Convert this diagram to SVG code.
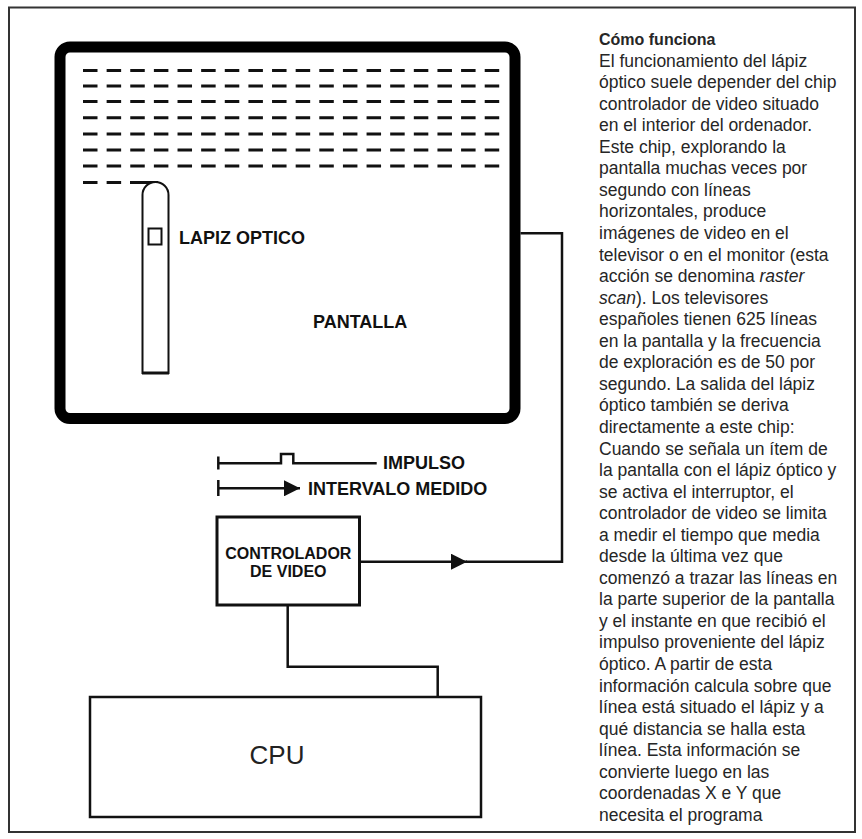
<svg xmlns="http://www.w3.org/2000/svg" width="862" height="839" viewBox="0 0 862 839">
<style>
.ln{fill:none;stroke:#111;stroke-width:2.5}
.lbl{font-family:"Liberation Sans",Arial,sans-serif;font-weight:bold;font-size:18px;fill:#111}
.scan{stroke:#111;stroke-width:3;stroke-dasharray:14.5 9.13}
.body{font-family:"Liberation Sans",Arial,sans-serif;font-size:17.5px;fill:#262626}
</style>
<defs>
<marker id="arr" markerUnits="userSpaceOnUse" markerWidth="16" markerHeight="16" refX="16" refY="8" orient="auto" viewBox="0 0 16 16">
<path d="M0,0 L16,8 L0,16 Z" fill="#111"/>
</marker>
</defs>
<rect x="0" y="0" width="862" height="839" fill="#fff"/>
<rect id="frame" x="9" y="7.5" width="846" height="824.5" fill="none" stroke="#333" stroke-width="2"/>

<g id="pantalla">
<rect x="60" y="47" width="455" height="371.5" rx="10" fill="#fff" stroke="#000" stroke-width="11"/>
<g id="scanlines">
<line class="scan" x1="83" y1="70.5" x2="500" y2="70.5"/>
<line class="scan" x1="83" y1="86" x2="500" y2="86"/>
<line class="scan" x1="83" y1="101.5" x2="500" y2="101.5"/>
<line class="scan" x1="83" y1="117.7" x2="500" y2="117.7"/>
<line class="scan" x1="83" y1="134" x2="500" y2="134"/>
<line class="scan" x1="83" y1="150" x2="500" y2="150"/>
<line class="scan" x1="83" y1="166" x2="500" y2="166"/>
<line class="scan" x1="83" y1="182.5" x2="122" y2="182.5"/>
<line x1="130" y1="182.5" x2="158" y2="182.5" stroke="#111" stroke-width="3"/>
</g>
<text class="lbl" x="313" y="328">PANTALLA</text>
</g>

<g id="lapiz">
<path d="M142.5,373 L142.5,195 A13,13 0 0 1 168.5,195 L168.5,373 Z" fill="#fff" stroke="#111" stroke-width="2"/>
<line x1="142" y1="373" x2="169" y2="373" stroke="#111" stroke-width="3"/>
<rect x="148.5" y="228.5" width="13" height="16" fill="#fff" stroke="#111" stroke-width="2"/>
<text class="lbl" x="179" y="244">LAPIZ OPTICO</text>
</g>

<g id="leyenda">
<line class="ln" x1="218.3" y1="456.5" x2="218.3" y2="469.5"/>
<path class="ln" d="M218.3,463.3 H281 V454 H293.3 V463.3 H376.7"/>
<text class="lbl" x="383" y="468.5">IMPULSO</text>
<line class="ln" x1="218.3" y1="480" x2="218.3" y2="496"/>
<line class="ln" x1="218.3" y1="488.3" x2="300" y2="488.3" marker-end="url(#arr)"/>
<text class="lbl" x="308" y="495">INTERVALO MEDIDO</text>
</g>

<g id="controlador">
<rect x="217" y="517" width="142.5" height="88" fill="#fff" stroke="#111" stroke-width="3"/>
<text class="lbl" x="288.3" y="559" text-anchor="middle" style="font-size:16px">CONTROLADOR</text>
<text class="lbl" x="288.3" y="576.7" text-anchor="middle" style="font-size:16px">DE VIDEO</text>
</g>

<g id="cpu">
<rect x="90" y="697" width="391" height="120" fill="#fff" stroke="#111" stroke-width="2.5"/>
<text x="277" y="764.3" text-anchor="middle" font-family="Liberation Sans, Arial, sans-serif" font-size="26" fill="#222">CPU</text>
</g>

<g id="conectores">
<line class="ln" x1="359.5" y1="561.7" x2="467" y2="561.7" marker-end="url(#arr)"/>
<path class="ln" d="M466,561.7 H562 V233.3 H520.5"/>
<path class="ln" d="M287.7,605 V666.7 H437.7 V697"/>
</g>

<g id="texto" class="body">
<text x="599" y="45" style="font-weight:bold;font-size:16px">Cómo funciona</text>
<text x="599" y="66.6">El funcionamiento del lápiz</text>
<text x="599" y="88.1">óptico suele depender del chip</text>
<text x="599" y="109.7">controlador de video situado</text>
<text x="599" y="131.2">en el interior del ordenador.</text>
<text x="599" y="152.8">Este chip, explorando la</text>
<text x="599" y="174.3">pantalla muchas veces por</text>
<text x="599" y="195.9">segundo con líneas</text>
<text x="599" y="217.4">horizontales, produce</text>
<text x="599" y="239">imágenes de video en el</text>
<text x="599" y="260.5">televisor o en el monitor (esta</text>
<text x="599" y="282.1">acción se denomina <tspan font-style="italic">raster</tspan></text>
<text x="599" y="303.6"><tspan font-style="italic">scan</tspan>). Los televisores</text>
<text x="599" y="325.2">españoles tienen 625 líneas</text>
<text x="599" y="346.7">en la pantalla y la frecuencia</text>
<text x="599" y="368.3">de exploración es de 50 por</text>
<text x="599" y="389.8">segundo. La salida del lápiz</text>
<text x="599" y="411.4">óptico también se deriva</text>
<text x="599" y="432.9">directamente a este chip:</text>
<text x="599" y="454.5">Cuando se señala un ítem de</text>
<text x="599" y="476">la pantalla con el lápiz óptico y</text>
<text x="599" y="497.6">se activa el interruptor, el</text>
<text x="599" y="519.1">controlador de video se limita</text>
<text x="599" y="540.7">a medir el tiempo que media</text>
<text x="599" y="562.2">desde la última vez que</text>
<text x="599" y="583.8">comenzó a trazar las líneas en</text>
<text x="599" y="605.3">la parte superior de la pantalla</text>
<text x="599" y="626.9">y el instante en que recibió el</text>
<text x="599" y="648.4">impulso proveniente del lápiz</text>
<text x="599" y="670">óptico. A partir de esta</text>
<text x="599" y="691.5">información calcula sobre que</text>
<text x="599" y="713.1">línea está situado el lápiz y a</text>
<text x="599" y="734.6">qué distancia se halla esta</text>
<text x="599" y="756.2">línea. Esta información se</text>
<text x="599" y="777.7">convierte luego en las</text>
<text x="599" y="799.3">coordenadas X e Y que</text>
<text x="599" y="820.8">necesita el programa</text>
</g>
</svg>
